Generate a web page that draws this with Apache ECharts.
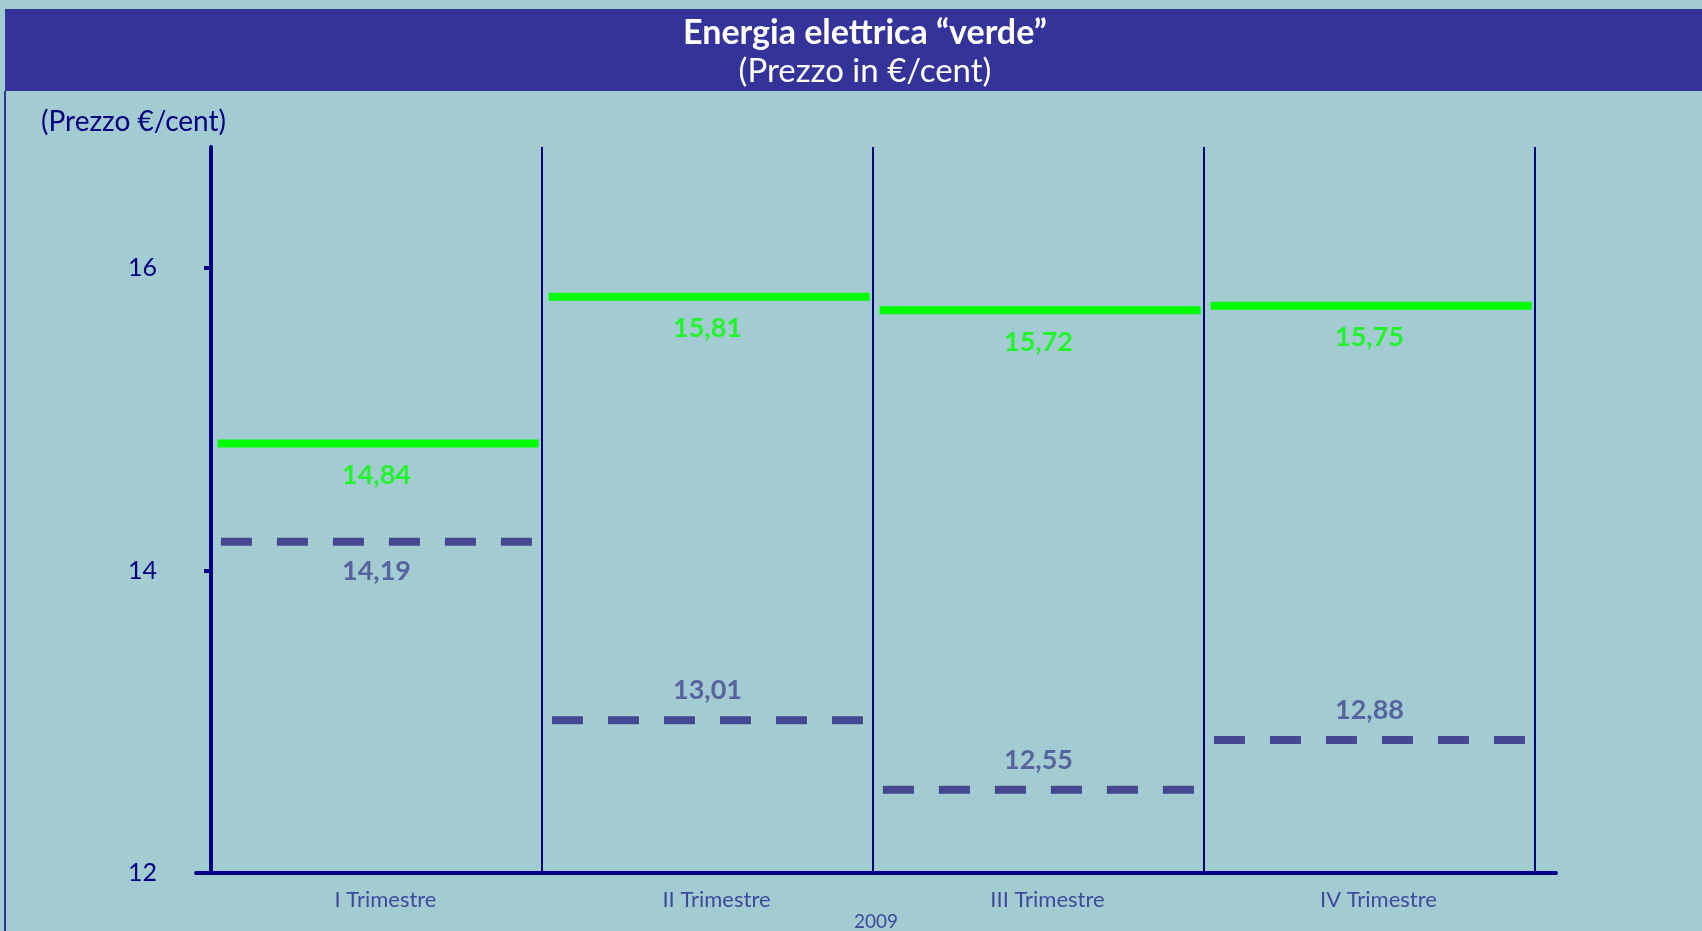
<!DOCTYPE html>
<html>
<head>
<meta charset="utf-8">
<script src="https://cdn.jsdelivr.net/npm/echarts@6/dist/echarts.min.js"></script>
<style>
  html, body { margin: 0; padding: 0; background: #A2CCD2; }
  #chart { width: 1702px; height: 931px; }
</style>
</head>
<body>
<div id="chart"></div>
<script>
// ---- data ----
const quarters = ['I Trimestre', 'II Trimestre', 'III Trimestre', 'IV Trimestre'];
const yearLabel = '2009';
const greenPrices = [14.84, 15.81, 15.72, 15.75];
const navyPrices = [14.19, 13.01, 12.55, 12.88];
const yTickLabels = [12, 14, 16];

// ---- styling ----
const NAVY = '#000080';
const GREEN = '#00FF00';
const DASH = '#434891';
const FONT = 'Lato, "Open Sans", sans-serif';
const navyLabelSide = ['bottom', 'top', 'top', 'top'];
const fmt = v => v.toFixed(2).replace('.', ',');

const series = [];
quarters.forEach((q, i) => {
  series.push({
    type: 'line', name: 'Energia verde', xAxisIndex: 0, yAxisIndex: 0,
    data: [[i + 0.02, greenPrices[i]], [i + 0.99, greenPrices[i]]],
    symbol: 'none', silent: true,
    lineStyle: { color: GREEN, width: 8, cap: 'butt' }
  });
  series.push({
    type: 'line', name: 'Energia', xAxisIndex: 0, yAxisIndex: 0,
    data: [[i + 0.03, navyPrices[i]], [i + 0.97, navyPrices[i]]],
    symbol: 'none', silent: true,
    lineStyle: { color: DASH, width: 8, type: [31, 25], cap: 'butt' }
  });
});
series.push({
  type: 'scatter', xAxisIndex: 0, yAxisIndex: 0, symbolSize: 0, silent: true,
  data: greenPrices.map((v, i) => ({ value: [i + 0.5, v] })),
  label: { show: true, position: 'bottom', distance: 18, color: GREEN,
           fontFamily: FONT, fontSize: 27, fontWeight: 'bold',
           formatter: p => fmt(p.value[1]) }
});
series.push({
  type: 'scatter', xAxisIndex: 0, yAxisIndex: 0, symbolSize: 0, silent: true,
  data: navyPrices.map((v, i) => ({ value: [i + 0.5, v], label: { position: navyLabelSide[i] } })),
  label: { show: true, distance: 16, color: DASH,
           fontFamily: FONT, fontSize: 27, fontWeight: 'bold',
           formatter: p => fmt(p.value[1]) }
});

const chart = echarts.init(document.getElementById('chart'), null, { renderer: 'canvas' });
chart.setOption({
  backgroundColor: '#A2CCD2',
  animation: false,
  title: [
    { text: 'Energia elettrica “verde”', left: 860, top: 11, textAlign: 'center',
      textStyle: { color: '#FFFFFF', fontFamily: FONT, fontSize: 34, fontWeight: 'bold' } },
    { text: '(Prezzo in €/cent)', left: 860, top: 50, textAlign: 'center',
      textStyle: { color: '#FFFFFF', fontFamily: FONT, fontSize: 33, fontWeight: 'normal' } },
    { text: '(Prezzo €/cent)', left: 36, top: 103,
      textStyle: { color: NAVY, fontFamily: FONT, fontSize: 28, fontWeight: 'normal' } }
  ],
  graphic: [
    { type: 'rect', z: -1, shape: { x: 5, y: 9, width: 1700, height: 82 }, style: { fill: '#343399' } },
    { type: 'line', z: -1, shape: { x1: 5, y1: 91, x2: 5, y2: 931 }, style: { stroke: '#343399', lineWidth: 2 } }
  ],
  grid: [
    { left: 211, right: 167, top: 147, bottom: 58, outerBoundsMode: 'none' },
    { left: 196, right: 146, top: 147, bottom: 58, outerBoundsMode: 'none' }
  ],
  xAxis: [
    { type: 'value', gridIndex: 0, min: 0, max: 4, interval: 1,
      axisLine: { show: false }, axisTick: { show: false }, axisLabel: { show: false },
      splitLine: { show: true, lineStyle: { color: NAVY, width: 2 } } },
    { type: 'category', gridIndex: 0, data: quarters, position: 'bottom',
      axisLine: { show: false }, axisTick: { show: false }, splitLine: { show: false },
      axisLabel: { color: '#3F4A9C', fontFamily: FONT, fontSize: 22, margin: 16, padding: [0, 0, 0, 18] } },
    { type: 'value', gridIndex: 1, min: 0, max: 1,
      axisLine: { show: true, lineStyle: { color: NAVY, width: 4 } },
      axisTick: { show: false }, axisLabel: { show: false }, splitLine: { show: false },
      name: yearLabel, nameLocation: 'middle', nameGap: 39,
      nameTextStyle: { color: '#3F4A9C', fontFamily: FONT, fontSize: 19 } }
  ],
  yAxis: [
    { type: 'value', gridIndex: 0, min: 12, max: 16.8, interval: 2,
      axisLine: { show: true, lineStyle: { color: NAVY, width: 4 } },
      axisTick: { show: true, length: 7, customValues: [14, 16], lineStyle: { color: NAVY, width: 4 } },
      axisLabel: { show: true, customValues: yTickLabels, margin: 54, color: NAVY, fontFamily: FONT, fontSize: 25 },
      splitLine: { show: false } },
    { type: 'value', gridIndex: 1, show: false, min: 12, max: 16.8 }
  ],
  series: series
});
</script>
</body>
</html>
